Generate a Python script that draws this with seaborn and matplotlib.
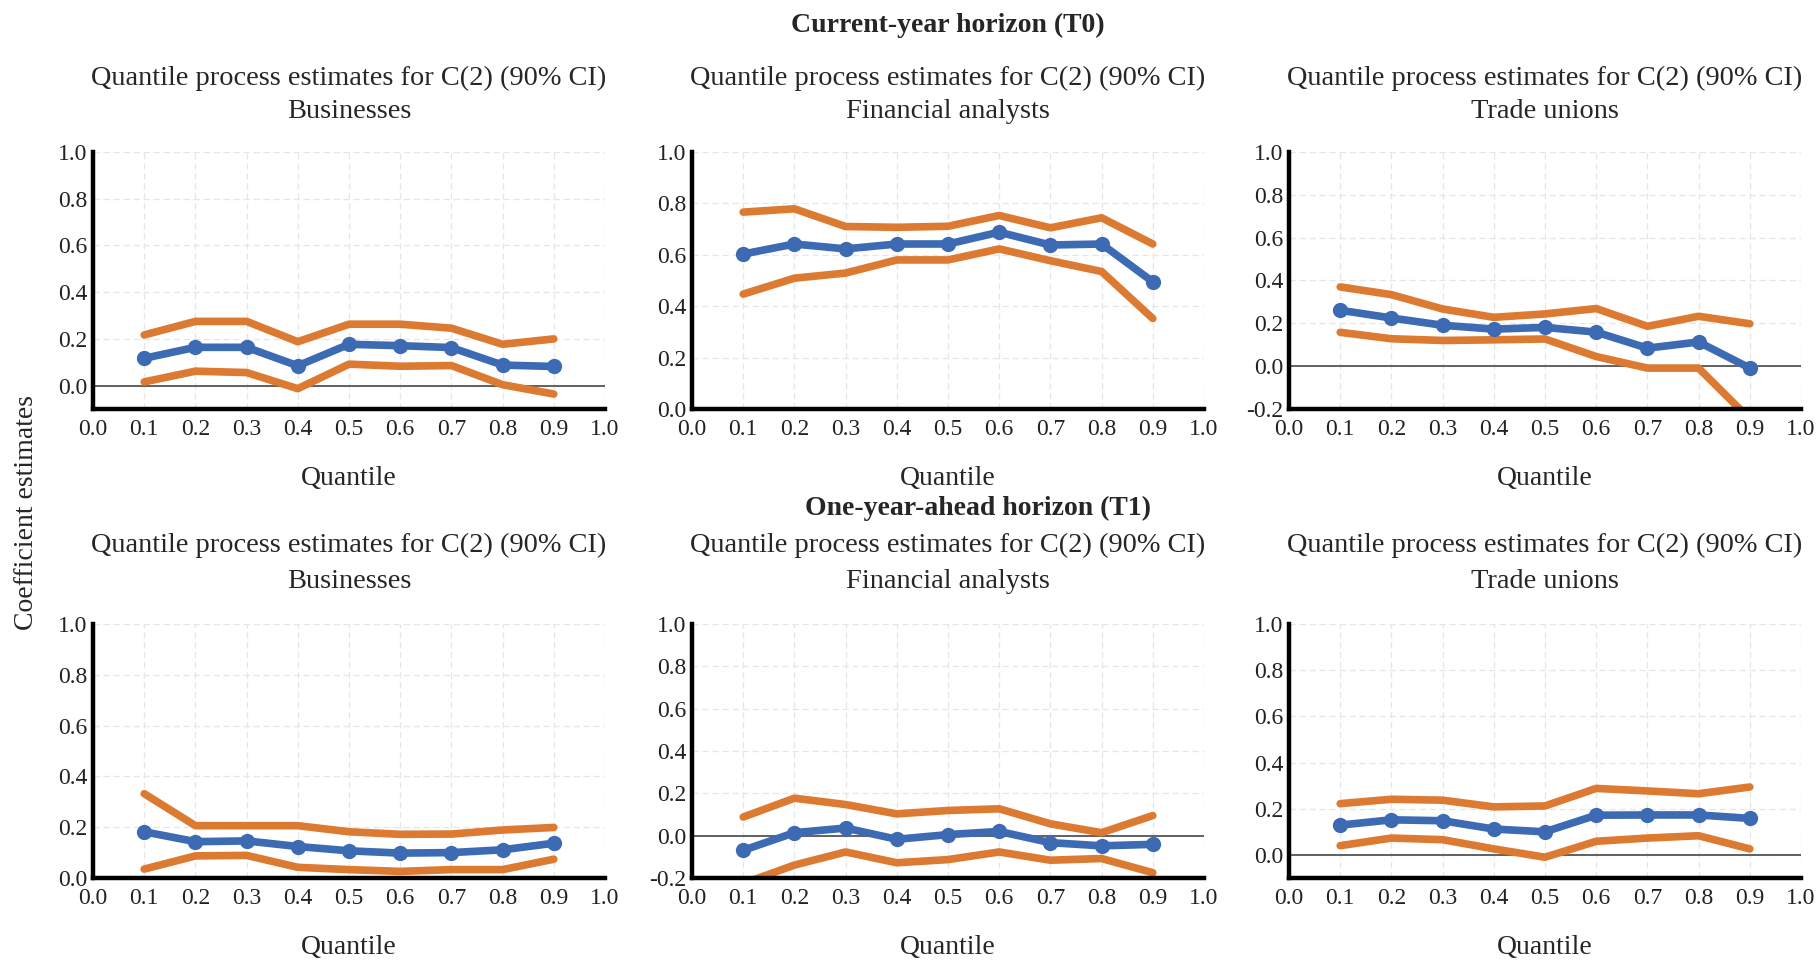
import numpy as np
import pandas as pd
import matplotlib
matplotlib.use("Agg")
import matplotlib.pyplot as plt
import seaborn as sns

# ---------------- data ----------------
quantiles = [0.1, 0.2, 0.3, 0.4, 0.5, 0.6, 0.7, 0.8, 0.9]

bus_t0_est = [0.117, 0.164, 0.164, 0.085, 0.177, 0.171, 0.163, 0.088, 0.082]
bus_t0_hi = [0.217, 0.275, 0.275, 0.188, 0.263, 0.263, 0.246, 0.177, 0.200]
bus_t0_lo = [0.016, 0.062, 0.056, -0.013, 0.092, 0.083, 0.086, 0.004, -0.036]

fin_t0_est = [0.603, 0.642, 0.623, 0.642, 0.642, 0.688, 0.638, 0.642, 0.495]
fin_t0_hi = [0.766, 0.779, 0.710, 0.707, 0.711, 0.753, 0.705, 0.744, 0.642]
fin_t0_lo = [0.447, 0.509, 0.529, 0.580, 0.580, 0.623, 0.577, 0.535, 0.352]

tu_t0_est = [0.261, 0.225, 0.191, 0.173, 0.181, 0.159, 0.084, 0.113, -0.009]
tu_t0_hi = [0.370, 0.334, 0.267, 0.228, 0.244, 0.269, 0.186, 0.233, 0.198]
tu_t0_lo = [0.158, 0.128, 0.120, 0.123, 0.127, 0.045, -0.009, -0.009, -0.247]

bus_t1_est = [0.182, 0.143, 0.146, 0.124, 0.107, 0.098, 0.100, 0.111, 0.137]
bus_t1_hi = [0.332, 0.206, 0.206, 0.206, 0.182, 0.172, 0.173, 0.189, 0.199]
bus_t1_lo = [0.035, 0.087, 0.089, 0.042, 0.033, 0.026, 0.033, 0.033, 0.074]

fin_t1_est = [-0.069, 0.014, 0.036, -0.017, 0.005, 0.020, -0.033, -0.048, -0.041]
fin_t1_hi = [0.088, 0.177, 0.147, 0.103, 0.119, 0.127, 0.056, 0.014, 0.095]
fin_t1_lo = [-0.226, -0.139, -0.077, -0.128, -0.113, -0.077, -0.116, -0.108, -0.175]

tu_t1_est = [0.129, 0.152, 0.148, 0.112, 0.100, 0.172, 0.173, 0.173, 0.158]
tu_t1_hi = [0.222, 0.241, 0.237, 0.208, 0.212, 0.288, 0.277, 0.265, 0.294]
tu_t1_lo = [0.040, 0.073, 0.066, 0.026, -0.010, 0.059, 0.073, 0.083, 0.026]

groups = ["Businesses", "Financial analysts", "Trade unions"]
row_titles = ["Current-year horizon (T0)", "One-year-ahead horizon (T1)"]
panel_title = "Quantile process estimates for C(2) (90% CI)"
x_ticks = [0.0, 0.1, 0.2, 0.3, 0.4, 0.5, 0.6, 0.7, 0.8, 0.9, 1.0]
y_lows = [[-0.1, 0.0, -0.2], [0.0, -0.2, -0.1]]
x_label = "Quantile"
y_label = "Coefficient estimates"

series = [
    [(bus_t0_est, bus_t0_lo, bus_t0_hi), (fin_t0_est, fin_t0_lo, fin_t0_hi), (tu_t0_est, tu_t0_lo, tu_t0_hi)],
    [(bus_t1_est, bus_t1_lo, bus_t1_hi), (fin_t1_est, fin_t1_lo, fin_t1_hi), (tu_t1_est, tu_t1_lo, tu_t1_hi)],
]

# ---------------- style ----------------
sns.set_style("white")
plt.rcParams["font.family"] = ["Liberation Serif", "DejaVu Serif"]
plt.rcParams["axes.unicode_minus"] = False

BLUE = "#3C6AB3"
ORANGE = "#DC7A31"

W, H = 1818, 961
fig = plt.figure(figsize=(W / 100, H / 100), dpi=100)

col_left = [93, 692, 1289]
col_w = 512
row_top = [152, 624]
row_bot = [409, 878]

for r in range(2):
    for c in range(3):
        l = col_left[c] / W
        b = 1 - row_bot[r] / H
        ah = row_bot[r] - row_top[r]
        ax = fig.add_axes([l, b, col_w / W, ah / H])
        est, lo, hi = series[r][c]
        df = pd.DataFrame({"q": quantiles, "est": est, "lo": lo, "hi": hi})
        ymin = y_lows[r][c]

        ax.set_xlim(0, 1.0)
        ax.set_ylim(ymin, 1.0)
        yt = [v / 10 for v in range(int(round(ymin * 10)), 11, 2)] if ymin <= -0.2 else [0.0, 0.2, 0.4, 0.6, 0.8, 1.0]
        ax.set_xticks(x_ticks)
        ax.set_xticklabels([f"{t:.1f}" for t in x_ticks])
        ax.set_yticks(yt)
        ax.set_yticklabels([f"{t:.1f}" for t in yt])

        ax.grid(True, color="#e6e6e6", linestyle=(0, (5, 3)), linewidth=0.9)
        ax.set_axisbelow(True)
        if ymin < 0:
            ax.axhline(0, color="#555555", linewidth=1.3, zorder=1.5)

        kw = dict(solid_capstyle="round", solid_joinstyle="round")
        sns.lineplot(data=df, x="q", y="hi", color=ORANGE, linewidth=5.5, ax=ax, **kw)
        sns.lineplot(data=df, x="q", y="lo", color=ORANGE, linewidth=5.5, ax=ax, **kw)
        sns.lineplot(data=df, x="q", y="est", color=BLUE, linewidth=5.5, marker="o",
                     markersize=11, markeredgewidth=0, ax=ax, **kw)

        for s in ["top", "right"]:
            ax.spines[s].set_visible(False)
        for s in ["left", "bottom"]:
            ax.spines[s].set_linewidth(3.2)
            ax.spines[s].set_color("black")
        ax.tick_params(axis="y", length=0, labelsize=17, colors="#222222", pad=4)
        ax.tick_params(axis="x", length=0, labelsize=17, colors="#222222", pad=7)
        ax.set_ylabel("")
        ax.set_xlabel(x_label, fontsize=20)
        ax.xaxis.set_label_coords(0.5, -57 / ah)

        line1_y = [78, 545][r]
        line2_y = [112, 582][r]
        ax.text(0.5, 1 + (row_top[r] - line1_y) / ah, panel_title, transform=ax.transAxes,
                ha="center", va="center", fontsize=20.4)
        ax.text(0.5, 1 + (row_top[r] - line2_y) / ah, groups[c], transform=ax.transAxes,
                ha="center", va="center", fontsize=20.4)

fig.text(948 / W, 1 - 25 / H, row_titles[0], ha="center", va="center", fontsize=20, fontweight="bold")
fig.text(978 / W, 1 - 508 / H, row_titles[1], ha="center", va="center", fontsize=20, fontweight="bold")
fig.text(27 / W, 1 - 512 / H, y_label, ha="center", va="center", rotation=90, fontsize=20)

fig.savefig("out.png", dpi=100)
